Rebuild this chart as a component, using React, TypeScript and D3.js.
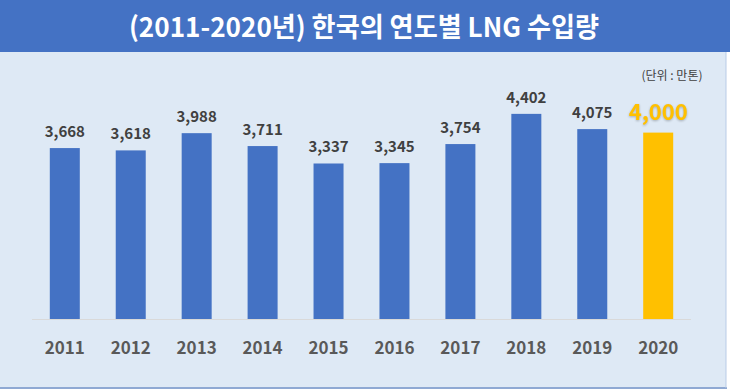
import * as d3 from 'd3';

const years = ['2011', '2012', '2013', '2014', '2015', '2016', '2017', '2018', '2019', '2020'];
const imports = [3668, 3618, 3988, 3711, 3337, 3345, 3754, 4402, 4075, 4000];
const title = '(2011-2020년) 한국의 연도별 LNG 수입량';
const unitLabel = '(단위 : 만톤)';

const W = 730;
const H = 390;
const font = '"Noto Sans CJK KR", "Noto Sans", sans-serif';

const App = () => {
  const x = d3.scaleBand<string>().domain(years).range([32, 691]).paddingInner(0.545).paddingOuter(0.27);
  const y = d3.scaleLinear().domain([0, 5000]).range([319, 86]);
  const fmt = d3.format(',');
  const last = years.length - 1;

  return (
    <svg
      width={W}
      height={H}
      style={{ position: 'absolute', left: 0, top: 0, display: 'block' }}
      fontFamily={font}
    >
      <rect x={0} y={0} width={W} height={H} fill="#ffffff" />
      <rect x={0} y={52} width={726} height={336} fill="#dee9f5" />
      <line x1={0} x2={727} y1={388} y2={388} stroke="#8fa9d3" strokeWidth={2} />
      <line x1={726} x2={726} y1={52} y2={388} stroke="#b9cbe6" strokeWidth={1} />
      <rect x={0} y={0} width={W} height={52} fill="#4472c4" />
      <text x={364} y={37} textAnchor="middle" fill="#ffffff" fontSize={27} fontWeight={700} textLength={470} lengthAdjust="spacingAndGlyphs">
        {title}
      </text>
      <text x={672} y={80} textAnchor="middle" fill="#404040" fontSize={12}>
        {unitLabel}
      </text>

      <line x1={32} x2={691} y1={319.5} y2={319.5} stroke="#d9d9d9" strokeWidth={1} />

      {years.map((yr, i) => (
        <g key={yr}>
          <rect
            x={x(yr)}
            y={y(imports[i])}
            width={x.bandwidth()}
            height={y(0) - y(imports[i])}
            fill={i === last ? '#ffc000' : '#4472c4'}
          />
          {i === last ? (
            <text
              x={(x(yr) as number) + x.bandwidth() / 2}
              y={y(imports[i]) - 13}
              textAnchor="middle"
              fill="#ffc000"
              fontSize={22}
              fontWeight={700}
              style={{ filter: 'drop-shadow(0px 1px 1px rgba(0,0,0,0.25))' }}
            >
              {fmt(imports[i])}
            </text>
          ) : (
            <text
              x={(x(yr) as number) + x.bandwidth() / 2}
              y={y(imports[i]) - 11}
              textAnchor="middle"
              fill="#404040"
              fontSize={15}
              fontWeight={700}
            >
              {fmt(imports[i])}
            </text>
          )}
          <text
            x={(x(yr) as number) + x.bandwidth() / 2}
            y={354}
            textAnchor="middle"
            fill="#595959"
            fontSize={17}
            fontWeight={700}
          >
            {yr}
          </text>
        </g>
      ))}
    </svg>
  );
};

export default App;
